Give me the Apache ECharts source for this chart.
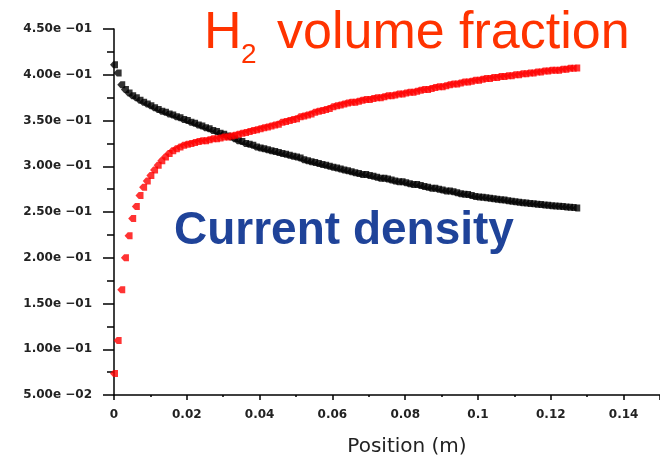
<!DOCTYPE html>
<html>
<head>
<meta charset="utf-8">
<title>H2 volume fraction / current density</title>
<script src="https://cdn.jsdelivr.net/npm/echarts@6/dist/echarts.min.js"></script>
<style>
  html, body { margin: 0; padding: 0; background: #fff; }
  #chart { width: 660px; height: 462px; }
</style>
</head>
<body>
<div id="chart"></div>
<script>
// position along the cell (m), one sample per mm
const position = [
  0, 0.001, 0.002, 0.003, 0.004, 0.005, 0.006, 0.007, 0.008, 0.009,
  0.010, 0.011, 0.012, 0.013, 0.014, 0.015, 0.016, 0.017, 0.018, 0.019,
  0.020, 0.021, 0.022, 0.023, 0.024, 0.025, 0.026, 0.027, 0.028, 0.029,
  0.030, 0.031, 0.032, 0.033, 0.034, 0.035, 0.036, 0.037, 0.038, 0.039,
  0.040, 0.041, 0.042, 0.043, 0.044, 0.045, 0.046, 0.047, 0.048, 0.049,
  0.050, 0.051, 0.052, 0.053, 0.054, 0.055, 0.056, 0.057, 0.058, 0.059,
  0.060, 0.061, 0.062, 0.063, 0.064, 0.065, 0.066, 0.067, 0.068, 0.069,
  0.070, 0.071, 0.072, 0.073, 0.074, 0.075, 0.076, 0.077, 0.078, 0.079,
  0.080, 0.081, 0.082, 0.083, 0.084, 0.085, 0.086, 0.087, 0.088, 0.089,
  0.090, 0.091, 0.092, 0.093, 0.094, 0.095, 0.096, 0.097, 0.098, 0.099,
  0.100, 0.101, 0.102, 0.103, 0.104, 0.105, 0.106, 0.107, 0.108, 0.109,
  0.110, 0.111, 0.112, 0.113, 0.114, 0.115, 0.116, 0.117, 0.118, 0.119,
  0.120, 0.121, 0.122, 0.123, 0.124, 0.125, 0.126, 0.127
];

// red curve: H2 volume fraction
const h2Fraction = [
  0.0735, 0.1095, 0.165, 0.200, 0.224, 0.243, 0.256, 0.268, 0.277, 0.284,
  0.290, 0.296, 0.301, 0.306, 0.310, 0.314, 0.317, 0.319, 0.321, 0.323,
  0.324, 0.325, 0.326, 0.327, 0.328, 0.328, 0.329, 0.330, 0.330, 0.331,
  0.332, 0.332, 0.333, 0.334, 0.335, 0.336, 0.337, 0.338, 0.339, 0.340,
  0.341, 0.342, 0.343, 0.344, 0.345, 0.346, 0.348, 0.349, 0.350, 0.351,
  0.352, 0.354, 0.355, 0.356, 0.357, 0.359, 0.360, 0.361, 0.362, 0.363,
  0.365, 0.366, 0.367, 0.368, 0.369, 0.370, 0.370, 0.371, 0.372, 0.373,
  0.373, 0.374, 0.375, 0.375, 0.376, 0.377, 0.377, 0.378, 0.379, 0.379,
  0.380, 0.381, 0.381, 0.382, 0.383, 0.384, 0.384, 0.385, 0.386, 0.387,
  0.387, 0.388, 0.389, 0.390, 0.390, 0.391, 0.392, 0.392, 0.393, 0.394,
  0.394, 0.395, 0.396, 0.396, 0.397, 0.397, 0.398, 0.398, 0.399, 0.399,
  0.400, 0.400, 0.401, 0.401, 0.402, 0.402, 0.403, 0.403, 0.404, 0.404,
  0.405, 0.405, 0.405, 0.406, 0.406, 0.407, 0.407, 0.4075
];

// black curve: current density
const currentDensity = [
  0.411, 0.402, 0.389, 0.384, 0.380, 0.377, 0.375, 0.372, 0.370, 0.368,
  0.366, 0.364, 0.362, 0.360, 0.359, 0.357, 0.356, 0.354, 0.353, 0.351,
  0.350, 0.348, 0.347, 0.345, 0.344, 0.342, 0.341, 0.339, 0.338, 0.336,
  0.335, 0.333, 0.332, 0.330, 0.328, 0.327, 0.325, 0.324, 0.323, 0.321,
  0.320, 0.319, 0.318, 0.317, 0.316, 0.315, 0.314, 0.313, 0.312, 0.311,
  0.310, 0.309, 0.307, 0.306, 0.305, 0.304, 0.303, 0.302, 0.301, 0.300,
  0.299, 0.298, 0.297, 0.296, 0.295, 0.294, 0.293, 0.292, 0.291, 0.291,
  0.290, 0.289, 0.288, 0.287, 0.287, 0.286, 0.285, 0.284, 0.283, 0.283,
  0.282, 0.281, 0.280, 0.280, 0.279, 0.278, 0.277, 0.276, 0.276, 0.275,
  0.274, 0.273, 0.273, 0.272, 0.271, 0.270, 0.2695, 0.269, 0.268, 0.267,
  0.2665, 0.266, 0.2655, 0.265, 0.2645, 0.264, 0.2635, 0.263, 0.2624, 0.2618,
  0.2612, 0.2607, 0.2602, 0.2597, 0.2593, 0.2589, 0.2585, 0.2581, 0.2577, 0.2573,
  0.2569, 0.2566, 0.2562, 0.2559, 0.2555, 0.2552, 0.2548, 0.2545
];

// axis ranges
const xRange = [0, 0.15, 0.02];
const yRange = [0.05, 0.45, 0.05];

// "4.50e −01" style labels
function sciLabel(v) {
  const e = Math.floor(Math.log10(v) + 1e-9);
  const m = v / Math.pow(10, e);
  const n = Math.abs(e);
  return m.toFixed(2) + 'e ' + (e < 0 ? '\u2212' : '+') + (n < 10 ? '0' + n : n);
}

const chart = echarts.init(document.getElementById('chart'));

const marker = 'path://M0,5 L4,0 L10,0 L10,10 L4,10 Z';
const axisFont = 'DejaVu Sans';

chart.setOption({
  animation: false,
  backgroundColor: '#fff',
  grid: { left: 114, right: -4, top: 29, bottom: 63, containLabel: false },
  xAxis: {
    type: 'value',
    min: xRange[0],
    max: xRange[1],
    interval: xRange[2],
    name: 'Position (m)',
    nameLocation: 'middle',
    nameGap: 42,
    nameTextStyle: { fontFamily: axisFont, fontSize: 20, color: '#222', padding: [0, 0, 0, 40] },
    axisLine: { lineStyle: { color: '#000', width: 1.5 } },
    axisTick: { show: true, length: 5, lineStyle: { color: '#000', width: 1.5 } },
    minorTick: { show: true, splitNumber: 2, length: 2, lineStyle: { color: '#000', width: 1.5 } },
    axisLabel: { fontFamily: axisFont, fontSize: 12, fontWeight: 'bold', color: '#222', margin: 14, showMaxLabel: false },
    splitLine: { show: false }
  },
  yAxis: {
    type: 'value',
    min: yRange[0],
    max: yRange[1],
    interval: yRange[2],
    axisLine: { show: true, lineStyle: { color: '#000', width: 1.5 } },
    axisTick: { show: true, length: 11, lineStyle: { color: '#000', width: 1.5 } },
    minorTick: { show: true, splitNumber: 2, length: 7, lineStyle: { color: '#000', width: 1.5 } },
    axisLabel: { fontFamily: axisFont, fontSize: 12, fontWeight: 'bold', color: '#222', margin: 22, formatter: sciLabel },
    splitLine: { show: false }
  },
  series: [
    {
      name: 'Current density',
      type: 'scatter',
      symbol: marker,
      symbolSize: [8, 7],
      itemStyle: { color: '#000' },
      data: position.map((x, i) => [x, currentDensity[i]])
    },
    {
      name: 'H2 volume fraction',
      type: 'scatter',
      symbol: marker,
      symbolSize: [8, 7],
      itemStyle: { color: '#ff0000' },
      data: position.map((x, i) => [x, h2Fraction[i]])
    }
  ],
  graphic: [
    {
      type: 'text', left: 204, top: 8,
      style: { text: 'H', fontFamily: 'Liberation Sans', fontSize: 52, fill: '#ff3300' }
    },
    {
      type: 'text', left: 241, top: 41,
      style: { text: '2', fontFamily: 'Liberation Sans', fontSize: 28, fill: '#ff3300' }
    },
    {
      type: 'text', left: 277, top: 8,
      style: { text: 'volume fraction', fontFamily: 'Liberation Sans', fontSize: 52, fill: '#ff3300' }
    },
    {
      type: 'text', left: 174, top: 208,
      style: { text: 'Current density', fontFamily: 'Liberation Sans', fontWeight: 'bold', fontSize: 46, fill: '#1f4399' }
    }
  ]
});
</script>
</body>
</html>
